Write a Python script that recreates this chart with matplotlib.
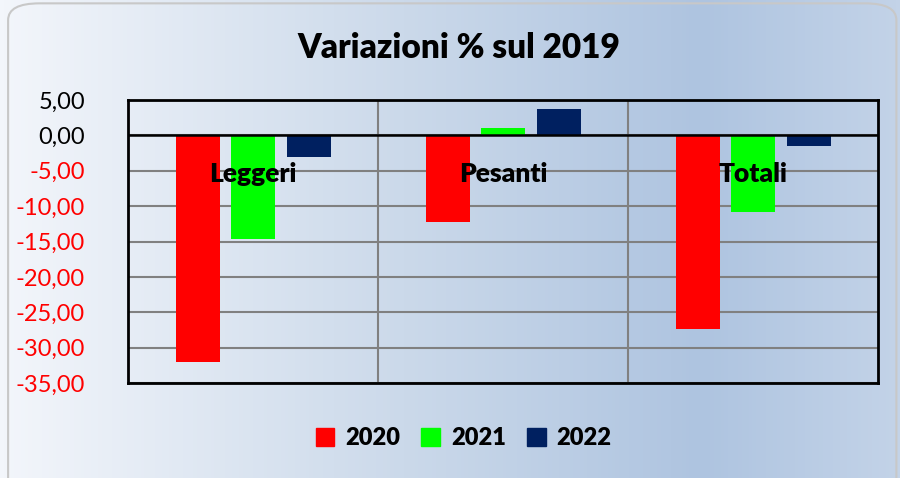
import numpy as np
import matplotlib
matplotlib.use("Agg")
import matplotlib.pyplot as plt
from matplotlib.patches import FancyBboxPatch, Patch
from matplotlib.colors import LinearSegmentedColormap

# ---------- dati ----------
categorie = ["Leggeri", "Pesanti", "Totali"]
anni      = ["2020", "2021", "2022"]
v2020     = [-32.1, -12.3, -27.4]
v2021     = [-14.6, 1.0, -10.9]
v2022     = [-3.0, 3.7, -1.45]
colori    = ["#ff0000", "#00ff00", "#002060"]
yticks    = [5, 0, -5, -10, -15, -20, -25, -30, -35]

plt.rcParams["font.family"] = ["Lato", "DejaVu Sans"]

fig = plt.figure(figsize=(9, 4.78), dpi=100)

# sfondo sfumato
bg = fig.add_axes([0, 0, 1, 1], zorder=-10)
cmap = LinearSegmentedColormap.from_list(
    "bg", [(0, "#f3f6fb"), (0.45, "#cbd9ea"), (0.78, "#aec4e0"), (1, "#c3d3e8")])
bg.imshow(np.linspace(0, 1, 256)[None, :], cmap=cmap, aspect="auto",
          extent=[0, 1, 0, 1], transform=bg.transAxes)
bg.add_patch(FancyBboxPatch((0.009, -0.05), 0.987, 1.043,
                            boxstyle="round,pad=0,rounding_size=0.035",
                            transform=bg.transAxes, fill=False,
                            edgecolor="#c8c8c8", linewidth=1.5))
bg.set_xlim(0, 1); bg.set_ylim(0, 1)
bg.axis("off")

# area del grafico: x 128-878, y 100-383 px
ax = fig.add_axes([128 / 900, 1 - 383 / 478, 750 / 900, 283 / 478])
ax.patch.set_alpha(0)

x = np.arange(len(categorie))
w = 0.176
off = 0.222
for i, (vals, col, lab) in enumerate(zip([v2020, v2021, v2022], colori, anni)):
    ax.bar(x + (i - 1) * off, vals, width=w, color=col, label=lab, zorder=3)

ax.set_xlim(-0.5, 2.5)
ax.set_ylim(-35, 5)
ax.set_yticks(yticks)
ax.set_yticklabels([f"{v:.2f}".replace(".", ",") for v in yticks], fontsize=17)
for t, v in zip(ax.get_yticklabels(), yticks):
    t.set_color("red" if v < 0 else "black")
ax.tick_params(axis="y", length=0, pad=31)
ax.set_xticks([])

ax.grid(axis="y", color="#808080", linewidth=1.5, zorder=1)
for b in [0.5, 1.5]:
    ax.axvline(b, color="#808080", linewidth=1.5, zorder=1)
ax.axhline(0, color="black", linewidth=1.8, zorder=4)
for s in ax.spines.values():
    s.set_linewidth(2)
    s.set_color("black")

for xi, c in zip(x, categorie):
    ax.text(xi, -5.4, c, ha="center", va="center", fontsize=19,
            fontweight="heavy", zorder=5)

fig.text(0.51, 0.9, "Variazioni % sul 2019", ha="center", va="center",
         fontsize=24, fontweight="heavy")

handles = [Patch(color=c, label=a) for c, a in zip(colori, anni)]
fig.legend(handles=handles, loc="center", bbox_to_anchor=(0.515, 1 - 438 / 478),
           ncol=3, frameon=False, handlelength=0.8, handleheight=0.8,
           columnspacing=0.9, handletextpad=0.45,
           prop={"size": 17, "weight": "heavy"})

fig.savefig("out.png", dpi=100)
